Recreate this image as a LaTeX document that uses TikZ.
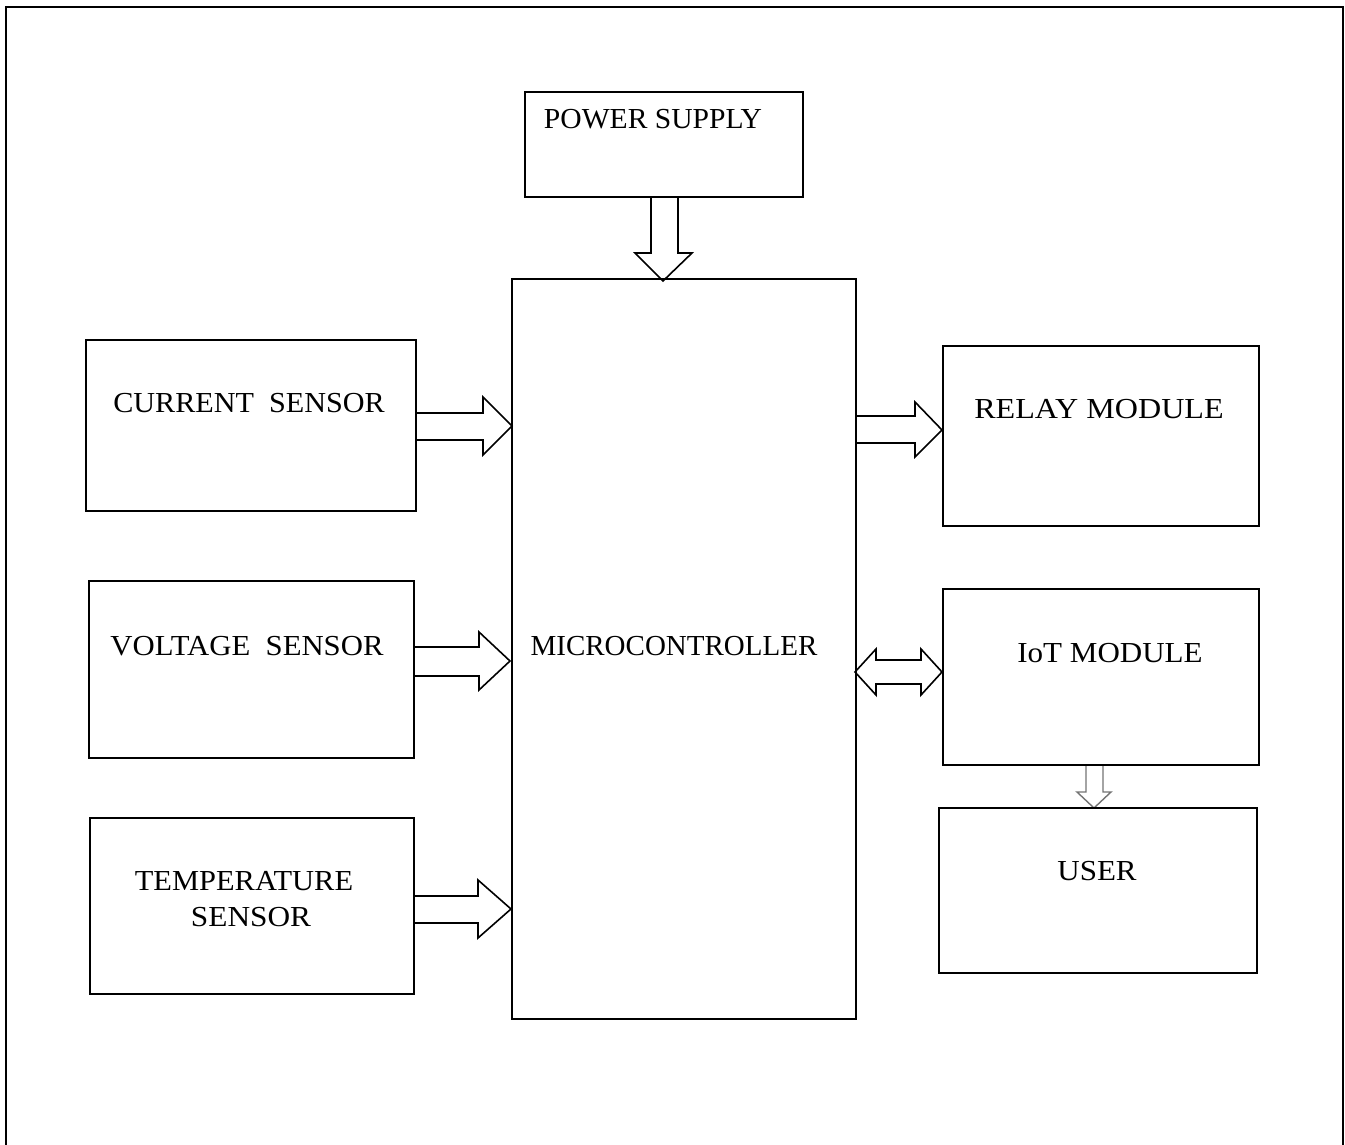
\documentclass[tikz,border=0pt]{standalone}
\usepackage{graphicx}
\usepackage{fontspec}
\setmainfont{Liberation Serif}
\newcommand{\sx}[2]{\scalebox{#1}[1]{#2}}
\begin{document}
\begin{tikzpicture}[x=1pt,y=-1pt,
  box/.style={draw, line width=1.6pt, inner sep=0pt, anchor=north west},
  lbl/.style={inner sep=0pt, font=\fontsize{29}{34}\selectfont},
  barrow/.style={draw, line width=1.6pt, line join=miter},
  garrow/.style={draw=black!55, line width=1.4pt, line join=miter}]
\useasboundingbox (0,0) rectangle (1345,1145);
% outer frame (open at the bottom)
\draw[line width=2pt] (6,1145) -- (6,7) -- (1343,7) -- (1343,1145);
% block arrows (drawn first, boxes on top)
% power supply -> microcontroller
\draw[barrow] (651,197) -- (651,253) -- (635,253) -- (663,281) -- (692,253) -- (678,253) -- (678,197);
% current sensor -> microcontroller
\draw[barrow] (416,413) -- (483,413) -- (483,397) -- (512,426) -- (483,455) -- (483,440) -- (416,440);
% voltage sensor -> microcontroller
\draw[barrow] (414,647) -- (479,647) -- (479,632) -- (510,661) -- (479,690) -- (479,676) -- (414,676);
% temperature sensor -> microcontroller
\draw[barrow] (414,896) -- (478,896) -- (478,880) -- (511,909) -- (478,938) -- (478,923) -- (414,923);
% microcontroller -> relay
\draw[barrow] (856,416) -- (915,416) -- (915,402) -- (942,430) -- (915,457) -- (915,443) -- (856,443);
% microcontroller <-> IoT
\draw[barrow] (855,672) -- (876,649) -- (876,660) -- (921,660) -- (921,649) -- (942,672) -- (921,695) -- (921,684) -- (876,684) -- (876,695) -- cycle;
% IoT -> user
\draw[garrow] (1086,765) -- (1086,792) -- (1077,792) -- (1094,808) -- (1111,792) -- (1103,792) -- (1103,765);
% boxes
\node[box, minimum width=278pt, minimum height=105pt] (ps) at (524,91) {};
\node[box, minimum width=344pt, minimum height=740pt] (mc) at (511,278) {};
\node[box, minimum width=330pt, minimum height=171pt] (cs) at (85,339) {};
\node[box, minimum width=325pt, minimum height=177pt] (vs) at (88,580) {};
\node[box, minimum width=324pt, minimum height=176pt] (ts) at (89,817) {};
\node[box, minimum width=316pt, minimum height=180pt] (rm) at (942,345) {};
\node[box, minimum width=316pt, minimum height=176pt] (iot) at (942,588) {};
\node[box, minimum width=318pt, minimum height=165pt] (us) at (938,807) {};
% labels
\node[lbl] (tps) at (653,119) {\sx{1.02}{POWER SUPPLY}};
\node[lbl] (tcs) at (249,403) {\sx{1.04}{CURRENT\ \ SENSOR}};
\node[lbl] (tvs) at (247,646) {\sx{1.06}{VOLTAGE\ \ SENSOR}};
\node[lbl] (tts1) at (244,881) {\sx{1.05}{TEMPERATURE}};
\node[lbl] (tts2) at (251,917) {\sx{1.08}{SENSOR}};
\node[lbl] (tmc) at (674,646) {MICROCONTROLLER};
\node[lbl] (trm) at (1099,409) {\sx{1.107}{RELAY MODULE}};
\node[lbl] (tiot) at (1110,653) {\sx{1.07}{IoT MODULE}};
\node[lbl] (tus) at (1097,871) {\sx{1.07}{USER}};
\end{tikzpicture}
\end{document}
